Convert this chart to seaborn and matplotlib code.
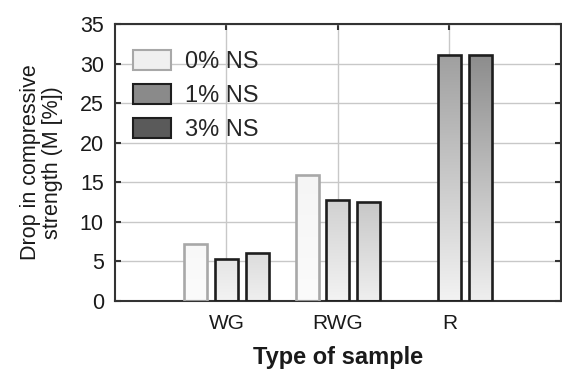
import numpy as np
import pandas as pd
import matplotlib
matplotlib.use("Agg")
import matplotlib.pyplot as plt
from matplotlib.colors import LinearSegmentedColormap, to_hex
from matplotlib.patches import Patch
import seaborn as sns

# values
samples = ["WG", "RWG", "R"]
series = ["0% NS", "1% NS", "3% NS"]
drop_0 = [7.2, 15.9, np.nan]
drop_1 = [5.3, 12.8, 31.1]
drop_3 = [6.1, 12.5, 31.1]

# bar gradients: colour at top of axis -> colour at zero
top_cols = ["#eeeeee", "#959595", "#808080"]
bot_cols = ["#fbfbfb", "#f3f3f3", "#efefef"]
edge_cols = ["#a8a8a8", "#1e1e1e", "#1e1e1e"]
legend_cols = ["#f0f0f0", "#8a8a8a", "#5a5a5a"]

rows = []
for s, vals in zip(series, [drop_0, drop_1, drop_3]):
    for cat, v in zip(samples, vals):
        rows.append({"sample": cat, "ns": s, "drop": v})
df = pd.DataFrame(rows).dropna()

sns.set_style("white")
plt.rcParams["font.family"] = ["Liberation Sans", "DejaVu Sans"]

fig = plt.figure(figsize=(5.62, 3.78), dpi=100)
ax = fig.add_axes([0.2046, 0.2037, 0.7934, 0.7328])

sns.barplot(data=df, x="sample", y="drop", hue="ns", order=samples,
            hue_order=series, palette=top_cols, width=0.825, gap=0.25,
            errorbar=None, legend=False, ax=ax)

ymax = 35
grad = np.linspace(1, 0, 256).reshape(-1, 1)
lookup = {to_hex(c): i for i, c in enumerate(top_cols)}
for p in list(ax.patches):
    i = lookup.get(to_hex(p.get_facecolor()), 0)
    cmap = LinearSegmentedColormap.from_list("g%d" % i, [bot_cols[i], top_cols[i]])
    x0 = p.get_x()
    w = p.get_width()
    im = ax.imshow(grad, cmap=cmap, aspect="auto", vmin=0, vmax=1,
                   extent=(x0, x0 + w, 0, ymax), zorder=2.5, interpolation="bilinear")
    im.set_clip_path(p)
    p.set_facecolor("none")
    p.set_edgecolor(edge_cols[i])
    p.set_linewidth(1.9)
    p.set_zorder(3)

ax.set_xlim(-1, 3)
ax.set_ylim(0, ymax)
ax.set_yticks(range(0, 36, 5))
ax.set_xticks(range(len(samples)))
ax.set_xticklabels(samples)

ax.set_axisbelow(True)
ax.grid(True, color="#c8c8c8", linewidth=1.0)
for sp in ax.spines.values():
    sp.set_visible(True)
    sp.set_color("#333333")
    sp.set_linewidth(1.5)

ax.tick_params(axis="y", which="both", left=True, right=True, direction="in",
               length=4, width=1.5, color="#333333", labelsize=15.5,
               labelcolor="#1a1a1a", pad=8)
ax.tick_params(axis="x", which="both", bottom=True, top=True, direction="in",
               length=4, width=1.5, color="#333333", labelsize=15,
               labelcolor="#1a1a1a", pad=9)

ax.set_xlabel("Type of sample", fontsize=17, fontweight="bold",
              color="#1a1a1a", labelpad=10)
ax.set_ylabel("Drop in compressive\nstrength (M [%])", fontsize=15.5,
              color="#1a1a1a", labelpad=12, linespacing=1.05)

handles = [Patch(facecolor=legend_cols[i], edgecolor=edge_cols[i], linewidth=1.5,
                 label=series[i]) for i in range(3)]
ax.legend(handles=handles, loc="upper left", bbox_to_anchor=(0.02, 0.94),
          frameon=False, fontsize=17, handlelength=1.6, handleheight=0.95,
          labelspacing=0.45, handletextpad=0.6, borderaxespad=0)

fig.savefig("out.png", dpi=100)
